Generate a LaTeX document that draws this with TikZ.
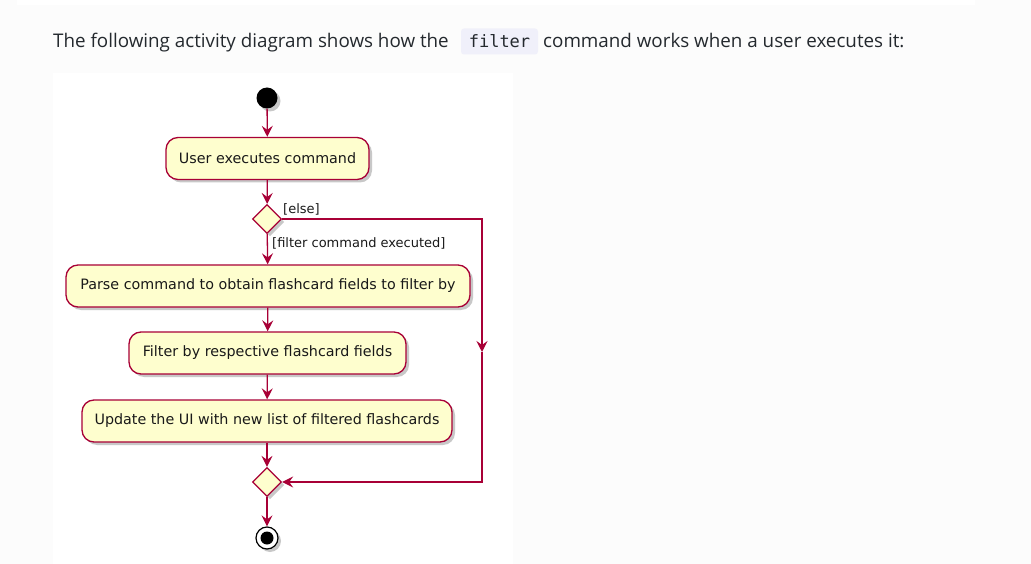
\documentclass[tikz,border=0pt]{standalone}
\usepackage{fontspec}
\setmainfont{Open Sans}
\newfontfamily\diagfont{DejaVu Sans}
\setmonofont{DejaVu Sans Mono}
\usetikzlibrary{arrows.meta,shapes.geometric,shadows}
\definecolor{pagebg}{HTML}{FCFCFC}
\definecolor{textc}{HTML}{24292E}
\definecolor{codebg}{HTML}{F0F0FA}
\definecolor{umlred}{HTML}{A80036}
\definecolor{umlfill}{HTML}{FEFECE}
\tikzset{
  headtext/.style={font=\fontsize{18.8}{22}\selectfont, text=textc, inner sep=0pt},
  codebox/.style={fill=codebg, rounded corners=3pt, minimum height=26pt, minimum width=77pt, inner sep=0pt, font=\ttfamily\fontsize{17}{20}\selectfont, text=textc},
  umlshadow/.style={drop shadow={shadow xshift=3pt, shadow yshift=-3pt, opacity=0.3, fill=black!70}},
  activity/.style={draw=umlred, line width=1.3pt, fill=umlfill, rounded corners=12pt, minimum height=42pt, inner sep=0pt, font=\diagfont\fontsize{14.3}{16}\selectfont, text=black!90, umlshadow},
  decision/.style={diamond, aspect=1, draw=umlred, line width=1.3pt, fill=umlfill, minimum size=29pt, inner sep=0pt, umlshadow},
  startnode/.style={circle, fill=black, minimum size=21pt, inner sep=0pt, umlshadow},
  guard/.style={font=\diagfont\fontsize{13}{15}\selectfont, text=black!90, inner sep=0pt},
  flow/.style={draw=umlred, line width=1.3pt, -{Stealth[length=11pt, width=11pt, inset=4pt]}},
  plainline/.style={draw=umlred, line width=1.3pt}
}
\begin{document}
\begin{tikzpicture}[x=1pt,y=-1pt]
\fill[pagebg] (0,0) rectangle (1031,564);
\useasboundingbox (0,0) rectangle (1031,564);
\fill[white] (17,0) rectangle (975,5);
\fill[white] (53,73) rectangle (513,564);

% heading
\node[headtext, anchor=base west] (h1) at (53,48) {The following activity diagram shows how the};
\node[codebox] (code) at (499.5,41.5) {filter};
\node[headtext, anchor=base west] (h2) at (543,48) {command works when a user executes it:};

% nodes
\node[startnode] (start) at (267,98) {};
\node[activity, minimum width=203pt] (b1) at (267.5,158.5) {User executes command};
\node[decision] (d1) at (267,219) {};
\node[activity, minimum width=404pt] (b2) at (268,286) {Parse command to obtain flashcard fields to filter by};
\node[activity, minimum width=277pt] (b3) at (267.5,353) {Filter by respective flashcard fields};
\node[activity, minimum width=370pt] (b4) at (267,421) {Update the UI with new list of filtered flashcards};
\node[decision] (d2) at (267,482) {};
\node[circle, draw=black, line width=1.2pt, fill=white, minimum size=22pt, inner sep=0pt, umlshadow] (end) at (267,538) {};
\node[circle, fill=black, minimum size=13pt, inner sep=0pt] (endin) at (end.center) {};

% guards
\node[guard, anchor=base west] (lelse) at (283,214) {[else]};
\node[guard, anchor=west] (lfilter) at (272,243) {[filter command executed]};

% connectors
\coordinate (r1) at (482,219);
\coordinate (rm) at (482,352);
\coordinate (r2) at (482,482);
\draw[flow] (start) -- (b1);
\draw[flow] (b1) -- (d1);
\draw[flow] (d1) -- (b2);
\draw[flow] (b2) -- (b3);
\draw[flow] (b3) -- (b4);
\draw[flow] (b4) -- (d2);
\draw[flow] (d2) -- (end);
\draw[flow] (d1.east) -- (r1) -- (rm);
\draw[flow] (rm) -- (r2) -- (d2.east);
\end{tikzpicture}
\end{document}
